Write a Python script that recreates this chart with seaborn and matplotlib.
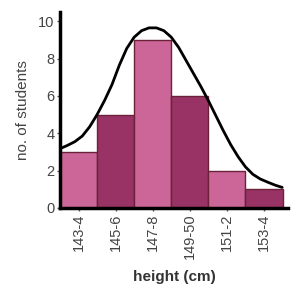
import numpy as np
import pandas as pd
import matplotlib
matplotlib.use("Agg")
import matplotlib.pyplot as plt
import seaborn as sns

# height classes and counts
heights = ["143-4", "145-6", "147-8", "149-50", "151-2", "153-4"]
students = [3, 5, 9, 6, 2, 1]
bar_colors = ["#CC6699", "#993366", "#CC6699", "#993366", "#CC6699", "#993366"]

# smooth curve (x in bar units)
curve_x = [-0.47, -0.3, -0.1, 0.1, 0.3, 0.5, 0.7, 0.9, 1.1, 1.3, 1.5, 1.7, 1.9,
           2.1, 2.3, 2.5, 2.7, 2.9, 3.1, 3.3, 3.5, 3.7, 3.9, 4.1, 4.3, 4.5,
           4.7, 4.9, 5.1, 5.3, 5.49]
curve_y = [3.2, 3.35, 3.55, 3.85, 4.35, 5.0, 5.75, 6.6, 7.65, 8.55, 9.15, 9.5, 9.65,
           9.65, 9.5, 9.15, 8.6, 7.9, 7.2, 6.5, 5.75, 4.95, 4.15, 3.4, 2.75, 2.2,
           1.8, 1.55, 1.38, 1.22, 1.1]

df = pd.DataFrame({"height": heights, "students": students})

sns.set_style("white")
plt.rcParams["font.family"] = ["Liberation Sans", "DejaVu Sans"]

fig = plt.figure(figsize=(2.94, 2.86), dpi=100)
ax = fig.add_axes([0.204, 0.273, 0.776, 0.685])

sns.barplot(data=df, x="height", y="students", hue="height", palette=bar_colors,
            saturation=1, width=1.0, edgecolor="#6B2238", linewidth=1.0,
            legend=False, ax=ax)

ax.plot(curve_x, curve_y, color="black", linewidth=2.0,
        solid_capstyle="round", solid_joinstyle="round")

ax.set_xlim(-0.5, 5.65)
ax.set_ylim(0, 10.5)
ax.set_yticks([0, 2, 4, 6, 8, 10])

sns.despine(ax=ax)
for side in ["left", "bottom"]:
    ax.spines[side].set_linewidth(2.5)
    ax.spines[side].set_color("black")

ax.tick_params(axis="both", direction="out", length=2, width=1, color="#555555",
               labelsize=10.5, labelcolor="#444444", pad=2)
ax.tick_params(axis="x", labelrotation=90)
ax.tick_params(bottom=True, left=True)

ax.set_xlabel("height (cm)", fontsize=11, fontweight="bold", color="#333333", labelpad=8)
ax.set_ylabel("no. of students", fontsize=11, color="#444444", labelpad=6)

fig.savefig("out.png", dpi=100)
